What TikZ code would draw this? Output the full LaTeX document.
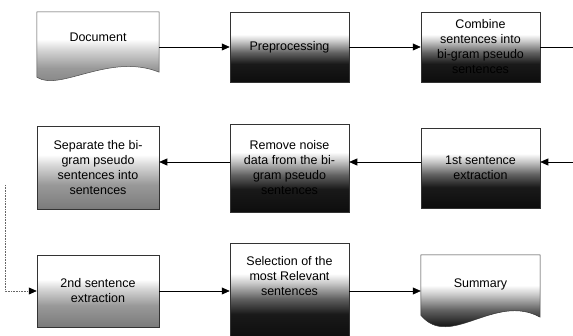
\documentclass[tikz,border=0pt]{standalone}
\usepackage{fontspec}
\setmainfont{Liberation Sans}
\usetikzlibrary{arrows.meta, calc, backgrounds}

% white at the top, dark at the bottom
\pgfdeclareverticalshading{darkfade}{100bp}{color(0bp)=(black!95); color(25bp)=(black!95); color(38bp)=(black!90); color(46bp)=(black!62); color(54bp)=(black!22); color(59bp)=(white); color(100bp)=(white)}
\pgfdeclareverticalshading{lightfade}{100bp}{color(0bp)=(black!52); color(25bp)=(black!52); color(40bp)=(black!40); color(52bp)=(black!15); color(58bp)=(white); color(100bp)=(white)}

\begin{document}
\begin{tikzpicture}[x=1pt, y=1pt,
    stepbox/.style={draw=black!80, line width=0.5pt, shade, shading=#1, align=center,
      minimum width=119pt, inner sep=3pt, font=\fontsize{12.5}{15}\selectfont},
    stepbox/.default=darkfade,
    doctext/.style={align=center, minimum width=122pt, inner sep=3pt,
      font=\fontsize{12.5}{15}\selectfont},
    flow/.style={-{Triangle[length=8pt, width=7pt]}, line width=0.6pt}]
    \useasboundingbox (0,0) rectangle (573,336);

    % Top row
    \node[doctext, text height=27pt, text depth=37pt] (doc) at (98,289) {Document};
    \node[stepbox, minimum height=70pt] (prep) at (289.5,289) {Preprocessing};
    \node[stepbox, minimum height=70pt] (comb) at (480.5,289)
      {Combine\\sentences into\\bi-gram pseudo\\sentences};
    \coordinate (rowOneEnd) at (576,289);

    % Middle row
    \node[stepbox, minimum height=80pt] (first) at (480.5,168) {1st sentence\\extraction};
    \node[stepbox, minimum height=88pt] (rem) at (289.5,168)
      {Remove noise\\data from the bi-\\gram pseudo\\sentences};
    \node[stepbox=lightfade, minimum width=122pt, minimum height=83pt] (sep) at (98,168)
      {Separate the bi-\\gram pseudo\\sentences into\\sentences};
    \coordinate (rowTwoIn) at (576,174);
    \coordinate (loopTop) at (5,151);

    % Bottom row
    \node[stepbox=lightfade, minimum width=122pt, minimum height=72pt] (sec) at (98,45)
      {2nd sentence\\extraction};
    \node[stepbox, minimum height=96pt] (sel) at (289.5,45)
      {Selection of the\\most Relevant\\sentences\\~\\~};
    \node[doctext, minimum width=119pt, text height=29.6pt, text depth=36.4pt] (sum) at (480.5,45) {Summary};

    % Wavy document shapes
    \begin{scope}[on background layer]
      \shadedraw[shading=lightfade, draw=black!70, line width=0.5pt]
        (doc.north west) -- (doc.north east) -- ($(doc.south east)+(0,10)$)
        .. controls ($(doc.south west)+(73,30)$) and ($(doc.south west)+(23,-10)$)
        .. ($(doc.south west)+(0,5)$) -- cycle;
      \shadedraw[shading=darkfade, draw=black!80, line width=0.5pt]
        (sum.north west) -- (sum.north east) -- ($(sum.south east)+(0,10)$)
        .. controls ($(sum.south west)+(74,35)$) and ($(sum.south west)+(29,-23)$)
        .. ($(sum.south west)+(0,12)$) -- cycle;
    \end{scope}

    % Connectors
    \draw[flow] (doc) -- (prep);
    \draw[flow] (prep) -- (comb);
    \draw[line width=0.6pt] (comb) -- (rowOneEnd);
    \draw[flow] (rowTwoIn) -- ([yshift=6pt]first.east);
    \draw[flow] ([yshift=6pt]first.west) -- ([yshift=6pt]rem.east);
    \draw[flow] ([yshift=6pt]rem.west) -- ([yshift=6pt]sep.east);
    \draw[densely dotted, black!60, line width=0.6pt,
      -{Triangle[length=8pt, width=7pt, color=black]}] (loopTop) |- (sec.west);
    \draw[flow] (sec) -- (sel);
    \draw[flow] (sel) -- (sum);
\end{tikzpicture}
\end{document}
